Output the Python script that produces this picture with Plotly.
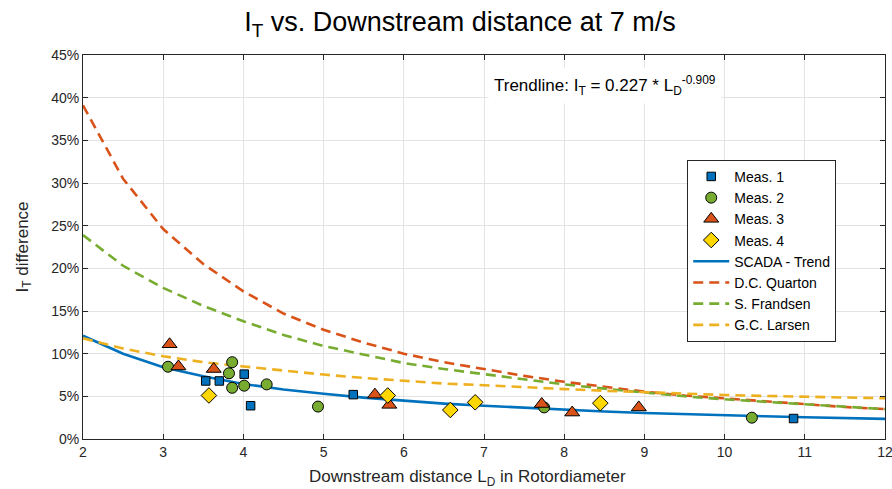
import plotly.graph_objects as go

# ---- data (percent) ----
m1_x = [3.53, 3.70, 4.01, 4.09, 5.37, 10.86]
m1_y = [6.8, 6.8, 7.6, 3.9, 5.2, 2.4]

m2_x = [3.06, 3.82, 3.86, 3.86, 4.01, 4.29, 4.93, 7.75, 10.34]
m2_y = [8.47, 7.7, 9.0, 6.0, 6.25, 6.4, 3.8, 3.7, 2.5]

m3_x = [3.08, 3.19, 3.63, 5.64, 5.82, 7.72, 8.10, 8.93]
m3_y = [11.1, 8.5, 8.2, 5.2, 4.0, 4.1, 3.1, 3.7]

m4_x = [3.57, 5.80, 6.58, 6.89, 8.45]
m4_y = [5.1, 5.1, 3.4, 4.3, 4.2]

curve_x = [2, 2.5, 3, 3.5, 4, 4.5, 5, 5.5, 6, 6.5, 7, 7.5, 8, 8.5, 9, 9.5, 10, 10.5, 11, 11.5, 12]
scada = [12.1, 10.0, 8.4, 7.35, 6.45, 5.8, 5.3, 4.85, 4.5, 4.15, 3.9, 3.65, 3.42, 3.22, 3.05, 2.9, 2.78, 2.66, 2.55, 2.45, 2.36]
quarton = [39.1, 30.5, 24.6, 20.5, 17.3, 14.7, 12.8, 11.3, 10.0, 9.0, 8.2, 7.4, 6.7, 6.1, 5.55, 5.1, 4.75, 4.4, 4.05, 3.75, 3.5]
frandsen = [23.9, 20.3, 17.7, 15.6, 13.8, 12.2, 10.9, 9.9, 8.9, 8.2, 7.6, 7.0, 6.4, 5.9, 5.45, 5.0, 4.65, 4.35, 4.05, 3.75, 3.5]
larsen = [11.8, 10.6, 9.7, 9.0, 8.5, 8.0, 7.55, 7.15, 6.8, 6.5, 6.3, 6.05, 5.85, 5.65, 5.47, 5.3, 5.16, 5.05, 4.96, 4.86, 4.77]

x_ticks = [2, 3, 4, 5, 6, 7, 8, 9, 10, 11, 12]
y_ticks = [0, 5, 10, 15, 20, 25, 30, 35, 40, 45]

BLUE = "#0072BD"
ORANGE = "#D95319"
GREEN = "#77AC30"
YELLOW = "#EDB120"
DIAM = "#FFD700"
FONT = "Liberation Sans, Arial, sans-serif"
AX = "#262626"

fig = go.Figure()

# curves
fig.add_trace(go.Scatter(x=curve_x, y=scada, mode="lines", name="SCADA - Trend",
                         line=dict(color=BLUE, width=2.6), legendrank=5))
fig.add_trace(go.Scatter(x=curve_x, y=quarton, mode="lines", name="D.C. Quarton",
                         line=dict(color=ORANGE, width=2.6, dash="10px,6px"), legendrank=6))
fig.add_trace(go.Scatter(x=curve_x, y=frandsen, mode="lines", name="S. Frandsen",
                         line=dict(color=GREEN, width=2.6, dash="10px,6px"), legendrank=7))
fig.add_trace(go.Scatter(x=curve_x, y=larsen, mode="lines", name="G.C. Larsen",
                         line=dict(color=YELLOW, width=2.6, dash="10px,6px"), legendrank=8))

# measurements
fig.add_trace(go.Scatter(x=m1_x, y=m1_y, mode="markers", name="Meas. 1", legendrank=1,
                         marker=dict(symbol="square", size=8.5, color=BLUE,
                                     line=dict(color="black", width=1))))
fig.add_trace(go.Scatter(x=m2_x, y=m2_y, mode="markers", name="Meas. 2", legendrank=2,
                         marker=dict(symbol="circle", size=11, color=GREEN,
                                     line=dict(color="black", width=1))))
fig.add_trace(go.Scatter(x=m3_x, y=m3_y, mode="markers", name="Meas. 3", legendrank=3,
                         marker=dict(symbol="triangle-up", size=13, color=ORANGE,
                                     line=dict(color="black", width=1))))
fig.add_trace(go.Scatter(x=m4_x, y=m4_y, mode="markers", name="Meas. 4", legendrank=4,
                         marker=dict(symbol="diamond", size=12, color=DIAM,
                                     line=dict(color="black", width=1))))

# trendline text box
fig.add_annotation(
    x=0.505, y=0.921, xref="paper", yref="paper", xanchor="left", yanchor="middle",
    text="Trendline: I<sub>T</sub> = 0.227 * L<sub>D</sub><sup>-0.909</sup>",
    showarrow=False, bgcolor="white", borderpad=5,
    font=dict(family=FONT, size=17, color="black"),
)

# x-axis label (placed as text, slightly left of centre as in the original)
fig.add_annotation(
    x=0.479, y=-0.1016, xref="paper", yref="paper", xanchor="center", yanchor="middle",
    text="Downstream distance L<sub>D</sub> in Rotordiameter",
    showarrow=False, font=dict(family=FONT, size=17, color=AX),
)

fig.update_layout(
    width=892, height=489,
    margin=dict(l=83, r=7, t=55, b=50),
    paper_bgcolor="white", plot_bgcolor="white",
    font=dict(family=FONT, size=14, color=AX),
    title=dict(text="I<sub>T</sub> vs. Downstream distance at 7 m/s",
               x=0.5157, xanchor="center", y=0.955, yanchor="middle",
               font=dict(family=FONT, size=27, color="black")),
    showlegend=True,
    legend=dict(x=0.7534, y=0.727, xanchor="left", yanchor="top",
                bgcolor="white", bordercolor=AX, borderwidth=1,
                font=dict(family=FONT, size=14, color="black"),
                tracegroupgap=0, itemwidth=36),
    xaxis=dict(range=[2, 12], tickvals=x_ticks, ticktext=[str(v) for v in x_ticks],
               showgrid=True, gridcolor="#E3E3E3", gridwidth=1,
               ticks="inside", ticklen=5, tickcolor=AX,
               showline=True, linecolor=AX, linewidth=1, mirror="ticks",
               zeroline=False, automargin=False, ticklabeloverflow="allow",
               tickfont=dict(family=FONT, size=14, color=AX)),
    yaxis=dict(range=[0, 45], tickvals=y_ticks, ticktext=[f"{v}%" for v in y_ticks],
               showgrid=True, gridcolor="#E3E3E3", gridwidth=1,
               ticks="inside", ticklen=5, tickcolor=AX,
               showline=True, linecolor=AX, linewidth=1, mirror="ticks",
               zeroline=False, automargin=False,
               title=dict(text="I<sub>T</sub> difference",
                          font=dict(family=FONT, size=17, color=AX), standoff=18),
               tickfont=dict(family=FONT, size=14, color=AX)),
)

# remove the default 8px page margin so the figure fills the window exactly
fig.write_html("out.html",
               config={"displayModeBar": False},
               post_script="document.body.style.margin='0';document.body.style.overflow='hidden';")
